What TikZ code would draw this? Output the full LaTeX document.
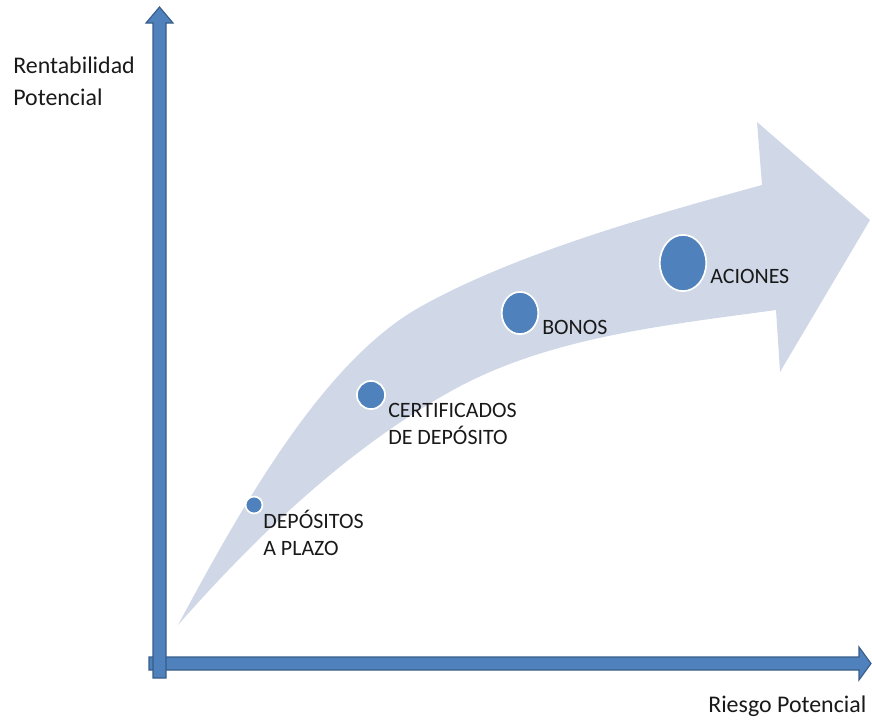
\documentclass[tikz,border=0pt]{standalone}
\usepackage{fontspec}
\setmainfont{Carlito}
\usetikzlibrary{shapes.geometric}

\definecolor{axisblue}{RGB}{79,129,189}
\definecolor{axisline}{RGB}{56,93,138}
\definecolor{bandblue}{RGB}{208,216,232}

\begin{document}
\begin{tikzpicture}[x=0.025cm, y=-0.025cm,
	dot/.style={ellipse, fill=axisblue, draw=white, line width=1.2pt, inner sep=0pt},
	lbl/.style={anchor=base west, inner sep=0pt, align=left, text=black!90,
		font=\fontsize{15.6}{19.1}\selectfont},
	title/.style={anchor=base west, inner sep=0pt, align=left, text=black!90,
		font=\fontsize{17}{22.7}\selectfont},
	axis/.style={draw=axisline, fill=axisblue, line width=0.8pt, line join=miter}]
\useasboundingbox (0,0) rectangle (872,719);

% Band arrow
\fill[bandblue] (178,625) .. controls (244,502) and (324,361) .. (420,307)
	.. controls (516,253) and (656,214) .. (762,185)
	-- (757,122) -- (870,220) -- (780,372) -- (776,310)
	.. controls (667,325) and (549,337) .. (453,390)
	.. controls (339,453) and (244,550) .. (178,625) -- cycle;

% Axes
\draw[axis] (149,657) -- (859,657) -- (859,647) -- (871,663.5) -- (859,680) -- (859,670) -- (149,670) -- cycle;
\draw[axis] (153,678) -- (153,23) -- (146,23) -- (159.5,7) -- (173,23) -- (166,23) -- (166,678) -- cycle;

% Axis titles (base = last line)
\node[title] (rent) at (13,105) {Rentabilidad\\Potencial};
\node[title] (riesgo) at (708,712) {Riesgo Potencial};

% Investments
\foreach \n/\x/\y/\w/\h in {dep/254/505/12pt/12pt, cert/371/395/20pt/20pt, bonos/520/313/26pt/30pt, acc/683/263/33pt/40pt}
{
	\node[dot, minimum width=\w, minimum height=\h] (\n) at (\x,\y) {};
}

% Labels
\node[lbl] (dep-t) at (263,555) {DEPÓSITOS\\A PLAZO};
\node[lbl] (cert-t) at (388,444) {CERTIFICADOS\\DE DEPÓSITO};
\node[lbl] (bonos-t) at (542,334) {BONOS};
\node[lbl] (acc-t) at (710,283) {ACIONES};
\end{tikzpicture}
\end{document}
